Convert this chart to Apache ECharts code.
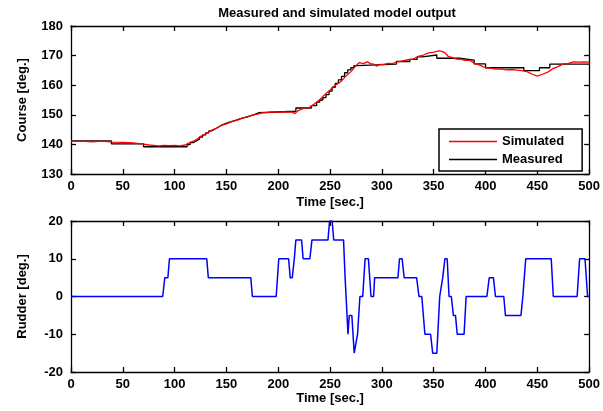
<!DOCTYPE html>
<html><head><meta charset="utf-8">
<script src="https://cdn.jsdelivr.net/npm/echarts@6/dist/echarts.min.js"></script>
<style>html,body{margin:0;padding:0;background:#fff}#c{width:603px;height:411px}</style>
</head><body><div id="c"></div>
<script>
// ---- data ----
const titleText = 'Measured and simulated model output';
const xTicks = [0, 50, 100, 150, 200, 250, 300, 350, 400, 450, 500];
const courseTicks = [130, 140, 150, 160, 170, 180];
const rudderTicks = [-20, -10, 0, 10, 20];

const measuredT = [0,39,70,112,115,118,121,124,127,130,133,136,139,142,145,149,153,158,163,168,173,178,181,217,232,237,240,243,246,249,252,255,258,261,264,267,270,273,276,314,327,334,339,353,375,389,400,437,452,462,500];
const measuredV = [141.2,140.2,139.2,139.9,140.6,141.2,141.8,142.5,143.2,143.9,144.6,145.2,145.8,146.4,147.0,147.5,148.0,148.6,149.1,149.6,150.2,150.7,151.2,152.3,153.1,154.3,155.0,155.8,156.8,158.0,159.3,160.6,161.8,163.0,164.2,165.2,165.9,166.6,167.1,168.0,168.7,169.6,170.2,169.1,168.5,167.2,165.9,164.9,165.9,167.1,167.1];

const simulatedT = [0,10,20,30,40,50,60,70,75,80,85,90,95,100,105,110,115,120,125,130,135,140,145,150,155,160,165,170,175,180,185,190,195,200,205,210,213,216,219,222,226,230,235,240,245,250,255,260,265,270,275,278,282,286,289,292,295,298,302,306,310,315,320,325,330,335,340,345,350,355,358,361,364,368,372,376,380,385,390,395,400,405,410,415,420,425,430,435,440,445,450,455,460,465,470,475,480,485,490,495,500];
const simulatedV = [141.0,141.1,140.9,141.1,140.8,140.7,140.5,140.1,139.8,139.7,139.5,139.7,139.6,139.7,139.5,139.8,140.7,141.4,142.7,143.5,144.7,145.4,146.4,146.9,147.7,148.1,148.9,149.2,149.9,150.2,150.7,150.8,151.0,150.8,151.0,150.9,151.0,150.4,151.4,151.8,152.3,152.5,153.7,155.1,156.9,158.4,160.0,161.1,163.0,164.5,166.6,167.6,167.3,167.9,167.3,167.1,166.4,167.0,167.0,167.4,167.3,167.9,168.2,168.6,168.8,169.7,170.2,170.9,171.2,171.6,171.4,170.9,169.7,169.3,168.8,168.8,168.4,168.4,167.3,166.7,165.9,165.8,165.4,165.5,165.2,165.3,165.1,164.9,164.6,163.7,163.1,163.7,164.4,165.6,166.3,167.2,167.4,167.9,167.8,167.9,167.8];

const rudderT = [0,88.5,90.5,93.5,95,131,132.5,173.5,175,198,200.5,210,211.5,213.5,215.5,217,222.5,224,230.5,232.5,248,249.5,252,253.5,263,264.5,267.3,268.5,271,273.3,276.5,278.8,281.5,283.8,287,289.5,292,293,315.5,317,319.5,321.5,333.5,335.8,338.5,341.5,347,349,353,355.8,358.7,360.8,363,364.8,367,369,371,372.7,379.3,381.3,401.3,403.6,407.6,409.6,417.6,419.2,434.2,436,438.8,463.4,465.4,488.4,490.8,496,498.5,500];
const rudderV = [0,0,5,5,10,10,5,5,0,0,10,10,5,5,10,15,15,10,10,15,15,20,20,15,15,5,-10,-5,-5,-15,-10,0,0,10,10,0,0,5,5,10,10,5,5,0,0,-10,-10,-15,-15,0,5,10,10,0,0,-5,-5,-10,-10,0,0,5,5,0,0,-5,-5,0,10,10,0,0,10,10,0,0];

// ---- chart ----
const zip = (a, b) => a.map((t, i) => [t, b[i]]);
const FONT = 'Liberation Sans, Arial, Helvetica, sans-serif';
const lbl = {color: '#000', fontWeight: 'bold', fontSize: 13, fontFamily: FONT};
const axLine = {show: true, onZero: false, lineStyle: {color: '#000', width: 1.3}};
const tick = {show: true, inside: true, length: 5, lineStyle: {color: '#000', width: 1.3}};

function xAx(grid, pos, showLbl, gap) {
  return {type: 'value', gridIndex: grid, position: pos, min: xTicks[0], max: xTicks[xTicks.length-1], interval: 50,
    axisLine: axLine, axisTick: tick, splitLine: {show: false},
    axisLabel: Object.assign({show: showLbl, margin: 6}, lbl),
    name: showLbl ? 'Time [sec.]' : '', nameLocation: 'middle', nameGap: gap || 22,
    nameTextStyle: lbl};
}
function yAx(grid, pos, ticks, showLbl, name) {
  return {type: 'value', gridIndex: grid, position: pos, min: ticks[0], max: ticks[ticks.length-1], interval: 10,
    axisLine: axLine, axisTick: tick, splitLine: {show: false},
    axisLabel: Object.assign({show: showLbl, margin: 8}, lbl),
    name: showLbl ? name : '', nameLocation: 'middle', nameGap: 42, nameRotate: 90,
    nameTextStyle: lbl};
}

const chart = echarts.init(document.getElementById('c'), null, {renderer: 'canvas'});
chart.setOption({
  animation: false,
  backgroundColor: '#fff',
  title: {text: titleText, left: 332, textAlign: 'center', top: 2,
    textStyle: {color: '#000', fontWeight: 'bold', fontSize: 13, fontFamily: FONT}},
  grid: [
    {left: 71, top: 26, width: 520, height: 148},
    {left: 71, top: 221, width: 520, height: 151}
  ],
  xAxis: [xAx(0, 'bottom', true, 22), xAx(0, 'top', false), xAx(1, 'bottom', true, 20), xAx(1, 'top', false)],
  yAxis: [yAx(0, 'left', courseTicks, true, 'Course [deg.]'), yAx(0, 'right', courseTicks, false, ''),
          yAx(1, 'left', rudderTicks, true, 'Rudder [deg.]'), yAx(1, 'right', rudderTicks, false, '')],
  legend: {
    orient: 'vertical', left: 439, top: 129, data: ['Simulated', 'Measured'],
    icon: 'rect', itemWidth: 48, itemHeight: 1.5, itemGap: 5,
    padding: [6, 18, 5, 10], borderColor: '#000', borderWidth: 1.5, backgroundColor: '#fff',
    textStyle: lbl
  },
  series: [
    {name: 'Simulated', type: 'line', xAxisIndex: 0, yAxisIndex: 0, data: zip(simulatedT, simulatedV),
      showSymbol: false, symbol: 'none', color: '#ff0000', lineStyle: {color: '#ff0000', width: 1.3}, z: 3},
    {name: 'Measured', type: 'line', step: 'end', xAxisIndex: 0, yAxisIndex: 0, data: zip(measuredT, measuredV),
      showSymbol: false, symbol: 'none', color: '#000', lineStyle: {color: '#000', width: 1.3}, z: 2},
    {name: 'Rudder', type: 'line', xAxisIndex: 2, yAxisIndex: 2, data: zip(rudderT, rudderV),
      showSymbol: false, symbol: 'none', color: '#0000ff', lineStyle: {color: '#0000ff', width: 1.5}}
  ]
});
</script></body></html>
